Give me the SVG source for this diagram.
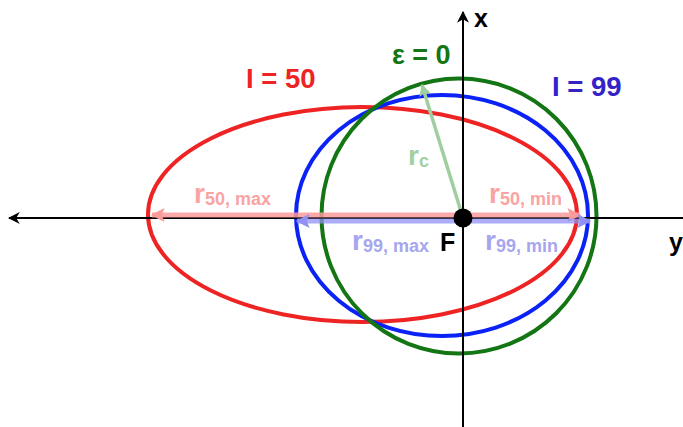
<svg xmlns="http://www.w3.org/2000/svg" width="683" height="427" viewBox="0 0 683 427">
<style>
text{font-family:"Liberation Sans",Arial,sans-serif;font-weight:bold}
.curve{fill:none;stroke-width:4}
.big{font-size:27.5px}
.lab{font-size:28px}
.sub{font-size:18px}
</style>
<defs>
<marker id="ax" viewBox="0 0 10 10" refX="9" refY="5" markerWidth="12" markerHeight="12" markerUnits="userSpaceOnUse" orient="auto-start-reverse"><path d="M0,0 L10,5 L0,10 L3,5 Z" fill="#000"/></marker>
<marker id="pk" viewBox="0 0 10 10" refX="9" refY="5" markerWidth="17" markerHeight="14" markerUnits="userSpaceOnUse" orient="auto-start-reverse"><path d="M0,0 L10,5 L0,10 L2,5 Z" fill="#fb9a9a"/></marker>
<marker id="bl" viewBox="0 0 10 10" refX="9" refY="5" markerWidth="17" markerHeight="14" markerUnits="userSpaceOnUse" orient="auto-start-reverse"><path d="M0,0 L10,5 L0,10 L2,5 Z" fill="#9090f5"/></marker>
<marker id="gr" viewBox="0 0 10 10" refX="9" refY="5" markerWidth="14" markerHeight="12" markerUnits="userSpaceOnUse" orient="auto"><path d="M0,0 L10,5 L0,10 L2,5 Z" fill="#9fce9f"/></marker>
</defs>
<g id="orbit-50"><ellipse class="curve" cx="362.5" cy="214.5" rx="214.5" ry="107.5" stroke="#ee2424"/></g>
<g id="orbit-99"><ellipse class="curve" cx="442" cy="215.5" rx="146" ry="120.5" stroke="#0a22f5"/></g>
<g id="orbit-circle"><circle class="curve" cx="459" cy="216" r="137.5" stroke="#137513"/></g>
<g id="connectors">
<line x1="683" y1="218" x2="9" y2="218" stroke="#000" stroke-width="2" marker-end="url(#ax)"/>
<line x1="463" y1="430" x2="463" y2="12" stroke="#000" stroke-width="2" marker-end="url(#ax)"/>
<line x1="152" y1="215" x2="580" y2="215" stroke="#fb9a9a" stroke-opacity="0.85" stroke-width="5" marker-start="url(#pk)" marker-end="url(#pk)"/>
<line x1="297" y1="221" x2="590" y2="221" stroke="#9090f5" stroke-opacity="0.75" stroke-width="5" marker-start="url(#bl)" marker-end="url(#bl)"/>
<line x1="463" y1="218" x2="422" y2="85" stroke="#9fce9f" stroke-width="3.5" marker-end="url(#gr)"/>
</g>
<g id="focus"><circle cx="463" cy="218" r="9.5" fill="#000"/><text x="440" y="251" font-size="25" fill="#000">F</text></g>
<g id="labels">
<text class="big" x="246" y="88" fill="#ee2424">I = 50</text>
<text class="big" x="552" y="96" fill="#3322c8">I = 99</text>
<text x="392" y="64" font-size="27" fill="#137513">ε = 0</text>
<text x="474" y="27" font-size="25" fill="#000">x</text>
<text x="669" y="251" font-size="25" fill="#000">y</text>
<text x="194" y="203" fill="#f9a3a3"><tspan class="lab">r</tspan><tspan class="sub" dy="2">50, max</tspan></text>
<text x="489" y="203" fill="#f9a3a3"><tspan class="lab">r</tspan><tspan class="sub" dy="2">50, min</tspan></text>
<text x="352" y="250" fill="#a6a6ef"><tspan class="lab">r</tspan><tspan class="sub" dy="2">99, max</tspan></text>
<text x="485" y="250" fill="#a6a6ef"><tspan class="lab">r</tspan><tspan class="sub" dy="2">99, min</tspan></text>
<text x="408" y="165" fill="#a3cfa3"><tspan class="lab">r</tspan><tspan class="sub" dy="2">c</tspan></text>
</g>
</svg>
